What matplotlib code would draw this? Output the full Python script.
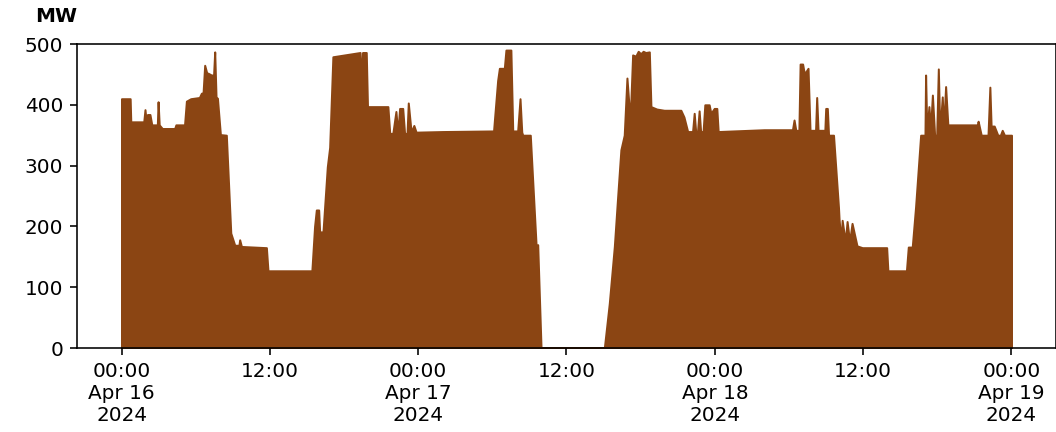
import pandas as pd
import matplotlib
matplotlib.use('Agg')
import matplotlib.pyplot as plt
import matplotlib.dates as mdates
from matplotlib.ticker import FuncFormatter, MultipleLocator

START = pd.Timestamp('2024-04-16 00:00')

# hours since Apr 16 00:00 and output in MW
day1_hours = [0.0, 0.7, 0.75, 1.8, 1.9, 2.0, 2.1, 2.3, 2.45, 2.9, 2.96, 3.05, 3.3,
              4.3, 4.4, 5.1, 5.25, 5.6, 6.3, 6.46, 6.6, 6.73, 6.9, 7.0, 7.27, 7.45,
              7.54, 7.65, 7.76, 8.0, 8.48, 8.84, 9.16, 9.5, 9.56, 9.7, 11.72, 11.85,
              15.4, 15.62, 15.76, 15.95, 16.03, 16.3, 16.65, 16.84, 17.1, 19.3, 19.4,
              19.5, 19.8, 19.9, 21.55, 21.7, 21.95, 22.2, 22.35, 22.5, 22.75, 22.9,
              23.1, 23.2, 23.43, 23.65, 23.83]
day1_mw = [410, 410, 372, 372, 392, 372, 384, 384, 367, 367, 405, 367, 361,
           361, 367, 367, 406, 410, 412, 419, 420, 465, 452, 452, 449, 449,
           487, 411, 411, 351, 350, 189, 169, 169, 178, 167, 165, 127,
           127, 200, 227, 227, 191, 191, 298, 330, 479, 486, 435,
           486, 486, 397, 397, 353, 353, 389, 353, 394, 394, 353,
           353, 403, 355, 366, 355]

day2_hours = [26.0, 30.1, 30.17, 30.43, 30.57, 30.97, 31.1, 31.5, 31.65, 32.05,
              32.24, 32.38, 32.46, 33.07, 33.54, 33.67, 33.94, 39.06, 39.46, 39.87,
              40.13, 40.4, 40.67, 40.89, 41.05, 41.2, 41.35, 41.6, 41.8, 42.0,
              42.2, 42.4, 42.7, 42.83, 43.3, 43.9, 45.25, 45.5, 45.8, 46.2,
              46.33, 46.45, 46.6, 46.73, 46.85, 47.05, 47.19, 47.54, 47.68, 47.95]
day2_mw = [356, 357, 375, 440, 460, 460, 490, 490, 357, 357,
           410, 355, 350, 350, 169, 170, 0, 0, 73, 167,
           246, 326, 350, 444, 400, 402, 482, 480, 488, 484,
           488, 486, 487, 397, 393, 391, 391, 380, 356, 356,
           386, 356, 356, 390, 356, 356, 400, 400, 386, 394]

day3_hours = [48.16, 48.27, 52.0, 54.28, 54.41, 54.55, 54.8, 54.9, 55.1, 55.25,
              55.35, 55.54, 55.7, 56.15, 56.24, 56.35, 56.9, 56.97, 57.1, 57.2,
              57.6, 58.0, 58.05, 58.2, 58.3, 58.55, 58.7, 58.9, 59.1, 59.5,
              59.93, 61.9, 62.0, 63.5, 63.65, 63.97, 64.24, 64.65, 65.0, 65.05,
              65.15, 65.32, 65.45, 65.6, 65.78, 65.95, 66.08, 66.2, 66.4, 66.5,
              66.67, 66.85, 69.23, 69.3, 69.55, 70.1, 70.25, 70.35, 70.6, 70.89,
              71.1, 71.25, 71.43, 72.0]
day3_mw = [394, 356, 359, 359, 375, 358, 358, 467, 467, 450,
           454, 460, 358, 358, 412, 358, 358, 394, 394, 350,
           350, 232, 212, 175, 210, 175, 208, 175, 205, 168,
           165, 165, 127, 127, 166, 166, 232, 350, 350, 449,
           355, 397, 360, 416, 350, 350, 459, 355, 413, 360,
           430, 367, 367, 373, 350, 350, 429, 365, 365, 350,
           350, 358, 350, 350]

hours = day1_hours + day2_hours + day3_hours
mw = day1_mw + day2_mw + day3_mw
times = START + pd.to_timedelta(hours, unit='h')

fig = plt.figure(figsize=(1056 / 144, 432 / 144), dpi=144)
ax = fig.add_axes([77 / 1056, 1 - 348 / 432, 979 / 1056, 304 / 432])

ax.fill_between(times, mw, color='#8B4513', linewidth=1.0)

ax.set_ylim(0, 500)
ax.yaxis.set_major_locator(MultipleLocator(100))


def fmt_tick(x, pos):
    d = mdates.num2date(x)
    if d.hour == 0:
        return d.strftime('%H:%M\n%b %d\n%Y')
    return d.strftime('%H:%M')


ax.xaxis.set_major_locator(mdates.HourLocator(byhour=[0, 12]))
ax.xaxis.set_major_formatter(FuncFormatter(fmt_tick))

fig.text(35 / 1056, 1 - 17 / 432, 'MW', fontweight='bold', va='center', ha='left')

plt.savefig('out.png', dpi=144)
